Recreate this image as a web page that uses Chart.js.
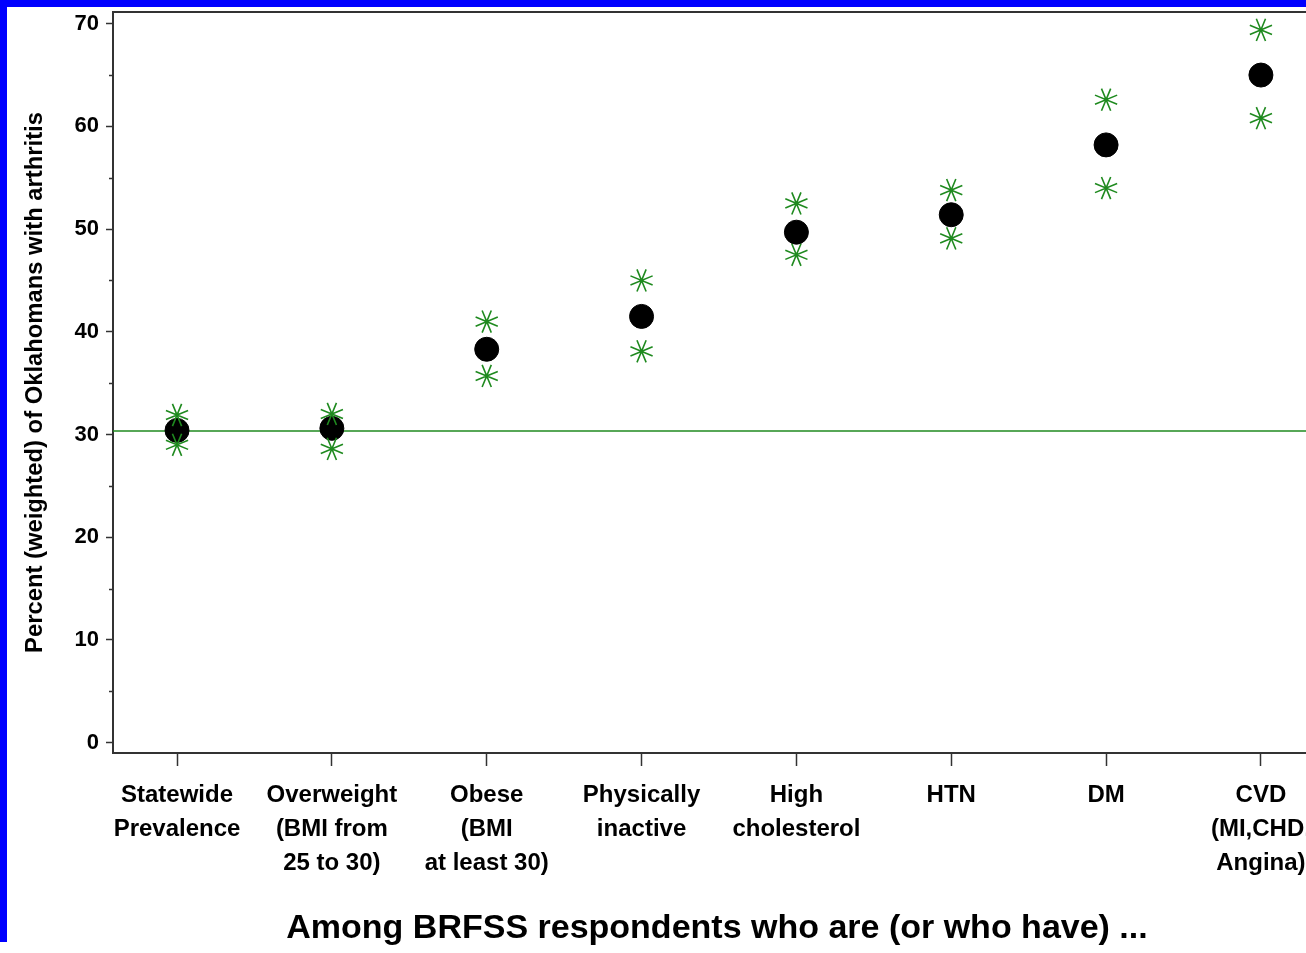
<!DOCTYPE html>
<html>
<head>
<meta charset="utf-8">
<script src="https://cdn.jsdelivr.net/npm/chart.js@4.4.1/dist/chart.umd.min.js"></script>
<style>
  html, body { margin: 0; padding: 0; background: #ffffff; overflow: hidden; width: 1306px; height: 953px; }
  #blue { position: absolute; left: 0; top: 0; width: 1306px; height: 942px; background: #0000ff; }
  #panel { position: absolute; left: 7px; top: 7px; width: 1314px; height: 946px; background: #ffffff; }
  canvas { display: block; }
</style>
</head>
<body>
<div id="blue"></div>
<div id="panel"><canvas id="c" width="1314" height="946"></canvas></div>
<script>
// ---- data ----
const categories = [
  ["Statewide", "Prevalence"],
  ["Overweight", "(BMI from", "25 to 30)"],
  ["Obese", "(BMI", "at least 30)"],
  ["Physically", "inactive"],
  ["High", "cholesterol"],
  ["HTN"],
  ["DM"],
  ["CVD", "(MI,CHD,", "Angina)"]
];
const estimate = [30.4, 30.6, 38.3, 41.5, 49.7, 51.4, 58.2, 65.0];
const upperCI  = [31.9, 32.0, 41.0, 45.0, 52.5, 53.8, 62.6, 69.4];
const lowerCI  = [29.0, 28.6, 35.7, 38.1, 47.5, 49.1, 54.0, 60.8];
const statewideRef = 30.35;
const yTicks = [0, 10, 20, 30, 40, 50, 60, 70];
const yMinorTicks = [5, 15, 25, 35, 45, 55, 65];
const yTitle = "Percent (weighted) of Oklahomans with arthritis";
const xTitle = "Among BRFSS respondents who are (or who have) ...";

const X_MIN = -0.4135, X_MAX = 7.388;
const Y_MIN = -1.01, Y_MAX = 71.14;

const FONT = "'Liberation Sans', Arial, Helvetica, sans-serif";
const FRAME = '#333333';
const GREEN = '#1f8a1f';

const toPts = arr => arr.map((v, i) => ({x: i, y: v}));

const framePlugin = {
  id: 'frame',
  afterDraw(chart) {
    const {ctx, chartArea} = chart;
    const y = chart.scales.y;
    ctx.save();
    ctx.strokeStyle = FRAME;
    ctx.lineWidth = 2;
    ctx.beginPath();
    ctx.moveTo(chartArea.left - 1, chartArea.top);
    ctx.lineTo(chartArea.right, chartArea.top);
    ctx.stroke();
    ctx.lineWidth = 1.5;
    ctx.beginPath();
    yMinorTicks.forEach(v => {
      const py = Math.round(y.getPixelForValue(v)) + 0.5;
      ctx.moveTo(chartArea.left - 4, py);
      ctx.lineTo(chartArea.left, py);
    });
    ctx.stroke();
    ctx.restore();
  }
};

new Chart(document.getElementById('c'), {
  type: 'scatter',
  data: {
    datasets: [
      {
        type: 'line',
        data: [{x: X_MIN, y: statewideRef}, {x: X_MAX, y: statewideRef}],
        borderColor: GREEN,
        borderWidth: 1.5,
        pointRadius: 0,
        fill: false,
        order: 4
      },
      {
        data: toPts(estimate),
        pointStyle: 'circle',
        pointRadius: 12,
        pointBackgroundColor: '#000000',
        pointBorderColor: '#000000',
        pointBorderWidth: 1,
        order: 3
      },
      {
        data: toPts(upperCI),
        pointStyle: 'star',
        pointRadius: 12,
        rotation: 22.5,
        pointBorderColor: GREEN,
        pointBorderWidth: 1.6,
        order: 2
      },
      {
        data: toPts(lowerCI),
        pointStyle: 'star',
        pointRadius: 12,
        rotation: 22.5,
        pointBorderColor: GREEN,
        pointBorderWidth: 1.6,
        order: 1
      }
    ]
  },
  options: {
    responsive: false,
    animation: false,
    events: [],
    layout: { padding: { top: 5, left: 0, right: 0, bottom: 0 }, autoPadding: false },
    plugins: { legend: { display: false }, tooltip: { enabled: false } },
    scales: {
      x: {
        type: 'linear',
        min: X_MIN,
        max: X_MAX,
        afterBuildTicks: s => { s.ticks = categories.map((c, i) => ({value: i})); },
        afterFit: s => { s.height = 200; s.paddingLeft = 0; s.paddingRight = 0; },
        ticks: {
          callback: v => categories[v],
          autoSkip: false,
          maxRotation: 0,
          minRotation: 0,
          padding: 13,
          color: '#000000',
          font: { family: FONT, size: 24, weight: 'bold', lineHeight: 1.4 }
        },
        grid: { display: true, drawOnChartArea: false, drawTicks: true, tickLength: 13, tickColor: FRAME, tickWidth: 1.5 },
        border: { display: true, color: FRAME, width: 2 },
        title: {
          display: true,
          text: xTitle,
          color: '#000000',
          font: { family: FONT, size: 34, weight: 'bold', lineHeight: 1.2 },
          padding: { top: 0, bottom: 4 }
        }
      },
      y: {
        type: 'linear',
        min: Y_MIN,
        max: Y_MAX,
        afterBuildTicks: s => { s.ticks = yTicks.map(v => ({value: v})); },
        afterFit: s => { s.width = 106; s.paddingTop = 0; s.paddingBottom = 0; },
        ticks: {
          padding: 7,
          color: '#000000',
          font: { family: FONT, size: 22, weight: 'bold' }
        },
        grid: { display: true, drawOnChartArea: false, drawTicks: true, tickLength: 7, tickColor: FRAME, tickWidth: 1.5 },
        border: { display: true, color: FRAME, width: 2 },
        title: {
          display: true,
          text: yTitle,
          color: '#000000',
          font: { family: FONT, size: 23.8, weight: 'bold', lineHeight: 1.2 },
          padding: { top: 14, bottom: 0 }
        }
      }
    }
  },
  plugins: [framePlugin]
});
</script>
</body>
</html>
